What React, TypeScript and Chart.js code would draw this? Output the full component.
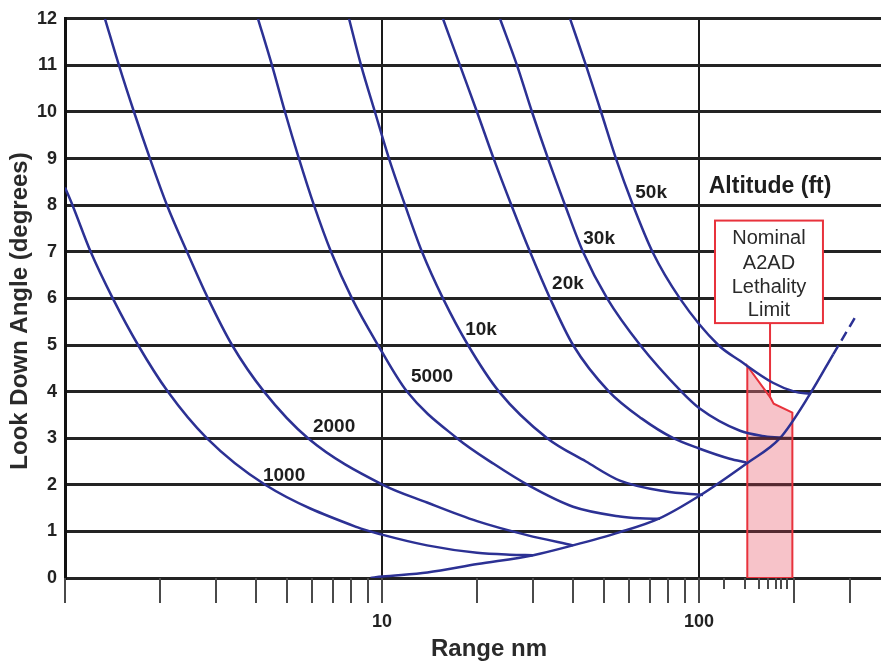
import React, { useEffect, useRef } from "react";
import { Chart, registerables } from "chart.js";

Chart.register(...registerables);

// ---------- data (range in nm, look-down angle in degrees) ----------
const ALTITUDE_LABELS = ["1000", "2000", "5000", "10k", "20k", "30k", "50k"];

const RANGE_1000 = [1.0, 1.056, 1.205, 1.415, 1.7, 2.11, 2.8, 4.28, 8.34, 10, 13.87, 19.94, 25.3, 29.9];
const ANGLE_1000 = [8.38, 8, 7, 6, 5, 4, 3, 2, 1.09, 0.93, 0.7, 0.54, 0.5, 0.49];

const RANGE_2000 = [1.337, 1.48, 1.651, 1.854, 2.098, 2.426, 2.826, 3.364, 4.244, 5.843, 10.07, 13.87, 19.94, 28.67, 40.05];
const ANGLE_2000 = [12, 11, 10, 9, 8, 7, 6, 5, 4, 3, 2, 1.62, 1.22, 0.92, 0.7];

const RANGE_5000 = [4.063, 4.498, 4.943, 5.47, 6.1, 6.905, 8.04, 9.71, 11.99, 17.24, 22.5, 29.3, 40.05, 56.3, 65, 75.3];
const ANGLE_5000 = [12, 11, 10, 9, 8, 7, 6, 5, 4, 3, 2.45, 1.97, 1.53, 1.32, 1.28, 1.27];

const RANGE_10K = [7.87, 8.59, 9.5, 10.52, 11.82, 13.37, 15.57, 18.67, 23.39, 33.2, 44, 56.3, 78, 103];
const ANGLE_10K = [12, 11, 10, 9, 8, 7, 6, 5, 4, 3, 2.5, 2.09, 1.86, 1.78];

const RANGE_20K = [15.57, 17.62, 19.94, 22.5, 25.6, 29.3, 33.9, 40.05, 52, 66, 83, 100, 125, 141];
const ANGLE_20K = [12, 11, 10, 9, 8, 7, 6, 5, 4, 3.42, 3, 2.78, 2.56, 2.48];

const RANGE_30K = [23.56, 26.66, 29.73, 33.4, 37.8, 43.05, 51.3, 65.2, 88, 100, 134.7, 158, 181];
const ANGLE_30K = [12, 11, 10, 9, 8, 7, 6, 5, 4, 3.65, 3.16, 3.05, 3.01];

const RANGE_50K = [39.2, 44.0, 49.1, 54.7, 61.9, 71.3, 87, 115, 134.7, 171, 200, 224];
const ANGLE_50K = [12, 11, 10, 9, 8, 7, 6, 5, 4.66, 4.19, 4.0, 3.95];

// radar horizon envelope (solid part, then dashed extrapolation)
const RANGE_HORIZON = [9.2, 10, 13.9, 20, 30, 40, 56, 75, 100, 142, 180, 224, 265];
const ANGLE_HORIZON = [0, 0.03, 0.12, 0.3, 0.49, 0.7, 0.98, 1.28, 1.76, 2.47, 3.0, 3.95, 4.8];
const RANGE_HORIZON_EXT = [265, 290, 315];
const ANGLE_HORIZON_EXT = [4.8, 5.25, 5.66];

// nominal A2AD lethality region (top edge for the fill, closed outline for the border)
const RANGE_LETHAL_TOP = [142, 168, 172, 197];
const ANGLE_LETHAL_TOP = [4.55, 3.87, 3.74, 3.55];
const RANGE_LETHAL_OUTLINE = [142, 142, 168, 172, 197, 197, 142];
const ANGLE_LETHAL_OUTLINE = [0, 4.55, 3.87, 3.74, 3.55, 0, 0];
const RANGE_CALLOUT = [167.5, 167.5];
const ANGLE_CALLOUT = [3.87, 5.47];

// axis ticks
const GRID_UNDER_FILL = [1, 2, 3];
const X_LABELED_TICKS = [10, 100];
const X_TALL_MARKS = [1, 2, 3, 4, 5, 6, 7, 8, 9, 10, 20, 30, 40, 50, 60, 70, 80, 90, 100, 200, 300];
const X_SHORT_MARKS = [120, 140, 155, 165, 175, 182, 190];

// annotation texts
const LEGEND_TITLE = "Altitude (ft)";
const CALLOUT_LINES = ["Nominal", "A2AD", "Lethality", "Limit"];
const X_TITLE = "Range nm";
const Y_TITLE = "Look Down Angle (degrees)";

// annotation anchors in data coordinates [range, angle]
const ALTITUDE_LABEL_ANCHORS: [number, number][] = [
  [4.91, 2.2],
  [7.06, 3.25],
  [14.38, 4.32],
  [20.53, 5.32],
  [38.6, 6.32],
  [48.4, 7.29],
  [70.6, 8.27],
];
const LEGEND_TITLE_ANCHOR: [number, number] = [167.5, 8.4];
const CALLOUT_BOX: [number, number, number, number] = [112.3, 246, 5.47, 7.67];
const CALLOUT_LINE_ANGLES = [7.29, 6.75, 6.24, 5.73];

// ---------- styling ----------
const BLUE = "#2c3194";
const RED = "#e8323c";
const TEXT = "#1e1e1e";
const FONT = "'Liberation Sans', Arial, Helvetica, sans-serif";

const pts = (xs: number[], ys: number[]) => xs.map((v, i) => ({ x: v, y: ys[i] }));

const curve = (label: string, xs: number[], ys: number[]) => ({
  label,
  data: pts(xs, ys),
  borderColor: BLUE,
  borderWidth: 2.5,
  pointRadius: 0,
  fill: false,
  cubicInterpolationMode: "monotone" as const,
  order: 1,
});

const overlayPlugin = {
  id: "overlay",
  afterDatasetsDraw(chart: any) {
    const { ctx } = chart;
    const x = chart.scales.x;
    const y = chart.scales.y;
    ctx.save();
    // grid lines showing through the translucent lethality fill
    const fx0 = x.getPixelForValue(RANGE_LETHAL_TOP[0]) + 1;
    const fx1 = x.getPixelForValue(RANGE_LETHAL_TOP[RANGE_LETHAL_TOP.length - 1]) - 1;
    ctx.strokeStyle = "rgba(70,30,38,0.7)";
    ctx.lineWidth = 3;
    GRID_UNDER_FILL.forEach((v) => {
      const py = y.getPixelForValue(v);
      ctx.beginPath();
      ctx.moveTo(fx0, py);
      ctx.lineTo(fx1, py);
      ctx.stroke();
    });
    // callout box
    const bx0 = x.getPixelForValue(CALLOUT_BOX[0]);
    const bx1 = x.getPixelForValue(CALLOUT_BOX[1]);
    const by0 = y.getPixelForValue(CALLOUT_BOX[3]);
    const by1 = y.getPixelForValue(CALLOUT_BOX[2]);
    ctx.fillStyle = "#ffffff";
    ctx.fillRect(bx0, by0, bx1 - bx0, by1 - by0);
    ctx.strokeStyle = RED;
    ctx.lineWidth = 2;
    ctx.strokeRect(bx0, by0, bx1 - bx0, by1 - by0);
    ctx.fillStyle = "#2a2a2a";
    ctx.font = `20px ${FONT}`;
    ctx.textAlign = "center";
    ctx.textBaseline = "middle";
    const cx = (bx0 + bx1) / 2;
    CALLOUT_LINES.forEach((t, i) => {
      ctx.fillText(t, cx, y.getPixelForValue(CALLOUT_LINE_ANGLES[i]));
    });
    ctx.restore();
  },
  afterDraw(chart: any) {
    const { ctx } = chart;
    const x = chart.scales.x;
    const y = chart.scales.y;
    const base = y.getPixelForValue(0);
    ctx.save();
    ctx.lineWidth = 2;
    ctx.strokeStyle = "#4a4a4a";
    X_TALL_MARKS.forEach((v) => {
      const px = Math.round(x.getPixelForValue(v));
      ctx.beginPath();
      ctx.moveTo(px, base);
      ctx.lineTo(px, base + 25);
      ctx.stroke();
    });
    X_SHORT_MARKS.forEach((v) => {
      const px = Math.round(x.getPixelForValue(v));
      ctx.beginPath();
      ctx.moveTo(px, base);
      ctx.lineTo(px, base + 11);
      ctx.stroke();
    });
    ctx.fillStyle = TEXT;
    ctx.textAlign = "center";
    ctx.textBaseline = "middle";
    ctx.font = `bold 19px ${FONT}`;
    ALTITUDE_LABELS.forEach((t, i) => {
      const [r, a] = ALTITUDE_LABEL_ANCHORS[i];
      ctx.fillText(t, x.getPixelForValue(r), y.getPixelForValue(a));
    });
    ctx.font = `bold 23px ${FONT}`;
    ctx.fillText(LEGEND_TITLE, x.getPixelForValue(LEGEND_TITLE_ANCHOR[0]), y.getPixelForValue(LEGEND_TITLE_ANCHOR[1]));
    ctx.font = `bold 24px ${FONT}`;
    ctx.fillStyle = "#2a2a2a";
    ctx.fillText(X_TITLE, 489, 649);
    ctx.translate(20, 311);
    ctx.rotate(-Math.PI / 2);
    ctx.fillText(Y_TITLE, 0, 0);
    ctx.restore();
  },
};

export default function App() {
  const ref = useRef<HTMLCanvasElement | null>(null);

  useEffect(() => {
    if (!ref.current) return;
    const chart = new Chart(ref.current, {
      type: "line",
      data: {
        datasets: [
          curve("1000", RANGE_1000, ANGLE_1000),
          curve("2000", RANGE_2000, ANGLE_2000),
          curve("5000", RANGE_5000, ANGLE_5000),
          curve("10k", RANGE_10K, ANGLE_10K),
          curve("20k", RANGE_20K, ANGLE_20K),
          curve("30k", RANGE_30K, ANGLE_30K),
          curve("50k", RANGE_50K, ANGLE_50K),
          curve("horizon", RANGE_HORIZON, ANGLE_HORIZON),
          { ...curve("horizon-ext", RANGE_HORIZON_EXT, ANGLE_HORIZON_EXT), borderDash: [10, 6] },
          {
            label: "lethality-fill",
            data: pts(RANGE_LETHAL_TOP, ANGLE_LETHAL_TOP),
            borderWidth: 0,
            borderColor: "rgba(0,0,0,0)",
            backgroundColor: "rgba(236,112,126,0.42)",
            pointRadius: 0,
            tension: 0,
            fill: "origin",
            order: 6,
          },
          {
            label: "lethality-outline",
            data: pts(RANGE_LETHAL_OUTLINE, ANGLE_LETHAL_OUTLINE),
            borderColor: RED,
            borderWidth: 2,
            pointRadius: 0,
            tension: 0,
            fill: false,
            order: 5,
          },
          {
            label: "callout",
            data: pts(RANGE_CALLOUT, ANGLE_CALLOUT),
            borderColor: RED,
            borderWidth: 2,
            pointRadius: 0,
            tension: 0,
            fill: false,
            order: 4,
          },
        ] as any,
      },
      options: {
        responsive: false,
        animation: false,
        events: [],
        layout: { padding: { top: 16, left: 0, right: 0, bottom: 0 } },
        plugins: { legend: { display: false }, tooltip: { enabled: false } },
        scales: {
          x: {
            type: "logarithmic",
            min: 1,
            max: 375,
            afterBuildTicks: (scale: any) => {
              scale.ticks = X_LABELED_TICKS.map((v) => ({ value: v }));
            },
            afterFit: (scale: any) => {
              scale.height = 84;
            },
            grid: { color: "#1a1a1a", lineWidth: 2, drawTicks: false },
            border: { display: false },
            ticks: {
              autoSkip: false,
              maxRotation: 0,
              padding: 33,
              color: "#222",
              font: { size: 18, weight: "bold", family: FONT },
              callback: (v: any) => String(v),
            },
          },
          y: {
            type: "linear",
            min: 0,
            max: 12,
            afterFit: (scale: any) => {
              scale.width = 65;
            },
            grid: { color: "#232323", lineWidth: 3, drawTicks: false },
            border: { display: true, color: "#111", width: 3 },
            ticks: {
              stepSize: 1,
              padding: 8,
              color: "#222",
              font: { size: 18, weight: "bold", family: FONT },
            },
          },
        },
      } as any,
      plugins: [overlayPlugin],
    });
    return () => chart.destroy();
  }, []);

  return (
    <div style={{ position: "fixed", left: 0, top: 0, width: 881, height: 662, background: "#fff" }}>
      <canvas ref={ref} width={881} height={662} style={{ display: "block" }} />
    </div>
  );
}
